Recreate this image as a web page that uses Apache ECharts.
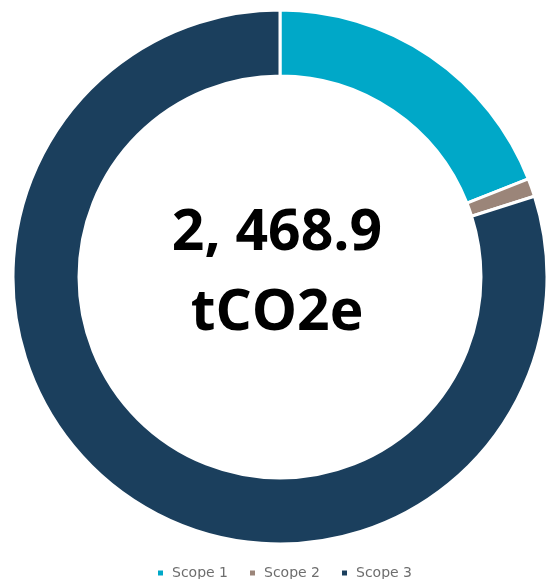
<!DOCTYPE html>
<html>
<head>
<meta charset="utf-8">
<script src="https://cdn.jsdelivr.net/npm/echarts@6/dist/echarts.min.js"></script>
<style>
  html, body { margin: 0; padding: 0; background: #ffffff; }
  #chart { width: 551px; height: 579px; }
</style>
</head>
<body>
<div id="chart"></div>
<script>
// Emissions by scope (tCO2e)
const categories = ['Scope 1', 'Scope 2', 'Scope 3'];
const values = [469.4, 27.1, 1972.4];
const colors = ['#00A8C8', '#9B8579', '#1B3F5D'];
const totalLabel = '2, 468.9';
const unitLabel = 'tCO2e';

const chart = echarts.init(document.getElementById('chart'));

chart.setOption({
  backgroundColor: '#ffffff',
  animation: false,
  color: colors,
  legend: {
    data: categories,
    left: 156,
    top: 566,
    icon: 'rect',
    itemWidth: 7,
    itemHeight: 7,
    itemGap: 20,
    padding: 0,
    textStyle: {
      color: '#6e6e6e',
      fontSize: 14,
      padding: [0, 0, 0, 3],
      fontFamily: 'DejaVu Sans, sans-serif'
    }
  },
  graphic: [{
    type: 'text',
    x: 277,
    y: 274,
    style: {
      text: totalLabel + '\n' + unitLabel,
      fill: '#000000',
      font: 'bold 57px "Open Sans", sans-serif',
      lineHeight: 80,
      align: 'center',
      verticalAlign: 'middle'
    }
  }],
  series: [{
    type: 'pie',
    center: [280, 277],
    radius: [201, 267],
    startAngle: 90,
    clockwise: true,
    label: { show: false },
    labelLine: { show: false },
    emphasis: { disabled: true },
    itemStyle: { borderColor: '#ffffff', borderWidth: 3 },
    data: categories.map((name, i) => ({ name, value: values[i] }))
  }]
});
</script>
</body>
</html>
